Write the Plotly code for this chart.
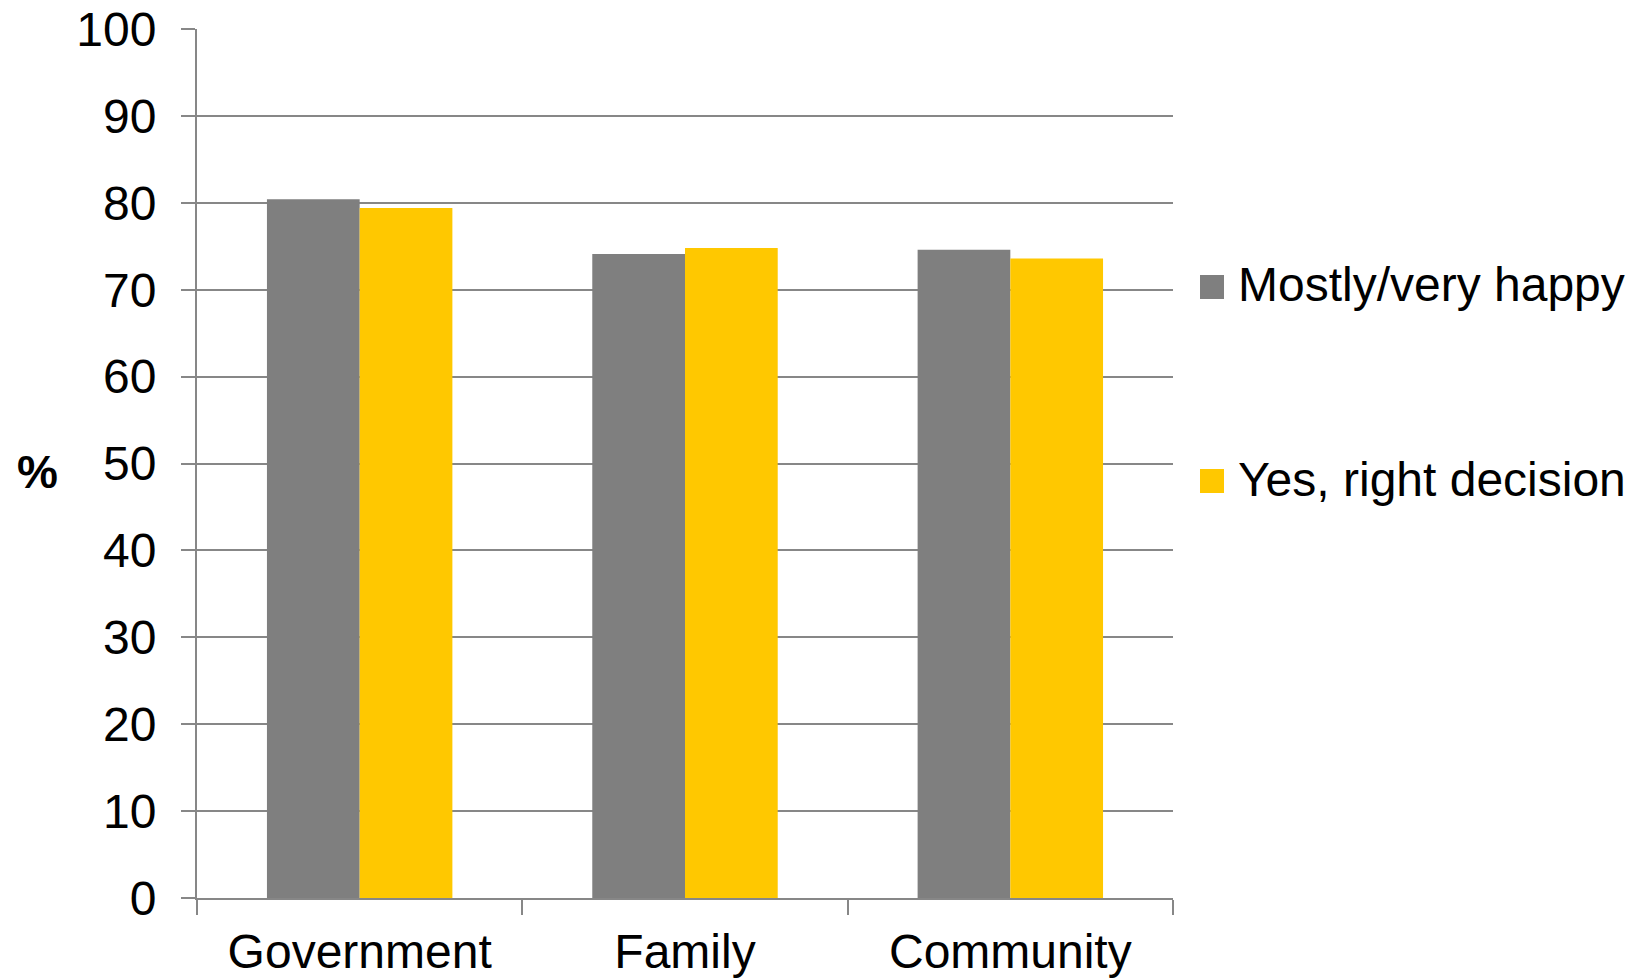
import plotly.graph_objects as go

categories = ["Government", "Family", "Community"]
happy = [80.4, 74.1, 74.6]
right_decision = [79.4, 74.8, 73.6]
series_names = ["Mostly/very happy", "Yes, right decision"]
colors = ["#7F7F7F", "#FFC800"]
y_ticks = [0, 10, 20, 30, 40, 50, 60, 70, 80, 90, 100]

FONT = "Liberation Sans, Arial, sans-serif"
GRID = "#878787"

fig = go.Figure()
for name, vals, col in zip(series_names, [happy, right_decision], colors):
    fig.add_trace(go.Bar(x=categories, y=vals, name=name, marker=dict(color=col, line=dict(width=0)),
                         showlegend=False))

W, H = 1642, 979
ml, mr, mt, mb = 197, 469, 29, 81
pw = W - ml - mr
ph = H - mt - mb

# manual legend (large squares like the original)
leg_y_px = [287, 481]
for name, col, ypx in zip(series_names, colors, leg_y_px):
    yc = 1 - (ypx - mt) / ph
    x0 = (1200 - ml) / pw
    x1 = (1224 - ml) / pw
    half = 12 / ph
    fig.add_shape(type="rect", xref="paper", yref="paper", x0=x0, x1=x1, y0=yc - half, y1=yc + half,
                  fillcolor=col, line=dict(width=0))
    fig.add_annotation(xref="paper", yref="paper", x=(1236 - ml) / pw, y=yc, text=name, showarrow=False,
                       xanchor="left", yanchor="middle", font=dict(family=FONT, size=48, color="#000000"),
                       yshift=2)

fig.add_annotation(xref="paper", yref="y", x=(37 - ml) / pw, y=50, text="<b>%</b>", showarrow=False,
                   xanchor="center", yanchor="middle", yshift=-8,
                   font=dict(family=FONT, size=46, color="#000000"))

fig.update_layout(
    width=W, height=H,
    margin=dict(l=ml, r=mr, t=mt, b=mb, pad=0, autoexpand=False),
    paper_bgcolor="white", plot_bgcolor="white",
    barmode="group", bargap=0.43, bargroupgap=0,
    font=dict(family=FONT, size=48, color="#000000"),
    showlegend=False,
)
fig.update_xaxes(
    type="category", tickson="boundaries", ticks="outside", ticklen=15, tickwidth=2, tickcolor=GRID,
    showline=True, linecolor=GRID, linewidth=2, showgrid=False, ticklabelstandoff=10, automargin=False,
    tickfont=dict(family=FONT, size=48, color="#000000"),
)
fig.update_yaxes(
    range=[0, 100], tickvals=y_ticks, ticks="outside", ticklen=14, tickwidth=2, tickcolor=GRID,
    showline=True, linecolor=GRID, linewidth=2, showgrid=True, gridcolor=GRID, gridwidth=2,
    zeroline=False, ticklabelstandoff=15, automargin=False,
    tickfont=dict(family=FONT, size=48, color="#000000"),
)

fig.write_html("out.html")
